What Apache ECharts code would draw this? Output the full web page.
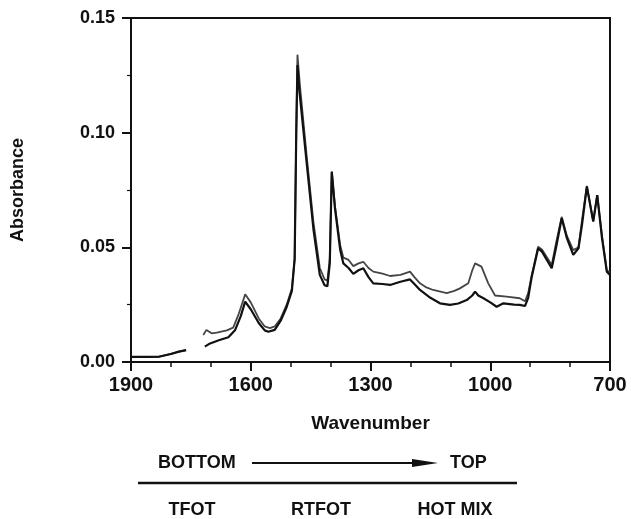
<!DOCTYPE html>
<html>
<head>
<meta charset="utf-8">
<script src="https://cdn.jsdelivr.net/npm/echarts@6/dist/echarts.min.js"></script>
<style>
html,body{margin:0;padding:0;background:#fff;}
#chart{width:643px;height:519px;}
</style>
</head>
<body>
<div id="chart"></div>
<script>
// Axis ticks
const xTicks = [1900, 1600, 1300, 1000, 700];
const yTicks = [0.00, 0.05, 0.10, 0.15];

// Lighter (upper) trace: wavenumber / absorbance, null = gap
const upperWn  = [1900,1860,1830,1800,1780,1762,1740,
  1719,1711,1698,1685,1660,1644,1630,1614,1600,1580,1565,1552,1540,1525,1510,1497,1490,1486,1483,1477,1460,1443,1427,1415,1408,1402,1397,1389,1376,1368,1355,1343,1330,1318,1305,1293,1270,1251,1225,1201,1190,1176,1160,1143,1109,1090,1076,1055,1045,1038,1022,1005,988,959,926,913,905,896,880,870,846,835,821,808,792,779,770,758,742,732,720,708,700];
const upperAbs = [0.0022,0.0022,0.0023,0.0035,0.0045,0.0052,null,
  0.0118,0.0140,0.0125,0.0128,0.0138,0.0150,0.0210,0.0295,0.0260,0.0190,0.0155,0.0148,0.0155,0.0190,0.0250,0.0320,0.0450,0.1000,0.1340,0.1210,0.0900,0.0610,0.0410,0.0360,0.0355,0.0450,0.0830,0.0680,0.0510,0.0455,0.0445,0.0418,0.0430,0.0437,0.0410,0.0394,0.0385,0.0375,0.0380,0.0394,0.0370,0.0343,0.0325,0.0314,0.0300,0.0310,0.0321,0.0343,0.0400,0.0430,0.0416,0.0343,0.0290,0.0285,0.0278,0.0265,0.0300,0.0380,0.0503,0.0490,0.0423,0.0520,0.0633,0.0550,0.0488,0.0500,0.0620,0.0768,0.0615,0.0728,0.0550,0.0400,0.0390];

// Darker (lower) trace
const lowerWn  = [1900,1860,1830,1800,1780,1762,1740,
  1715,1702,1680,1656,1639,1625,1614,1600,1580,1565,1556,1540,1525,1510,1497,1490,1486,1483,1478,1460,1443,1427,1415,1408,1402,1397,1389,1376,1368,1355,1343,1330,1318,1305,1293,1270,1251,1225,1201,1190,1176,1150,1126,1101,1080,1059,1045,1038,1030,1017,1000,984,967,940,926,913,905,896,880,870,846,835,821,808,792,779,770,758,742,732,720,708,700];
const lowerAbs = [0.0022,0.0022,0.0023,0.0035,0.0045,0.0052,null,
  0.0067,0.0081,0.0095,0.0108,0.0140,0.0200,0.0263,0.0230,0.0170,0.0138,0.0132,0.0140,0.0180,0.0240,0.0310,0.0450,0.1000,0.1295,0.1180,0.0870,0.0580,0.0380,0.0335,0.0330,0.0430,0.0830,0.0670,0.0490,0.0430,0.0410,0.0384,0.0400,0.0409,0.0370,0.0343,0.0340,0.0336,0.0350,0.0360,0.0340,0.0314,0.0280,0.0256,0.0249,0.0255,0.0270,0.0290,0.0307,0.0290,0.0278,0.0260,0.0241,0.0256,0.0250,0.0249,0.0244,0.0280,0.0372,0.0496,0.0480,0.0409,0.0500,0.0627,0.0540,0.0467,0.0496,0.0600,0.0765,0.0612,0.0728,0.0540,0.0394,0.0380];

const axisLabelText = 'Wavenumber';
const yLabelText = 'Absorbance';
const legendTop = ['BOTTOM', 'TOP'];
const legendBottom = ['TFOT', 'RTFOT', 'HOT MIX'];

function pairs(xs, ys){ return xs.map((x,i)=>[x, ys[i]]); }

const FONT = '"Liberation Sans", Arial, sans-serif';
const chart = echarts.init(document.getElementById('chart'), null, {renderer:'canvas'});
chart.setOption({
  animation: false,
  backgroundColor: '#fff',
  grid: {left: 131, right: 33, top: 18, bottom: 157, show: true, borderColor: '#111', borderWidth: 2, backgroundColor: 'transparent'},
  xAxis: {
    type: 'value', min: 700, max: 1900, interval: 300, inverse: true,
    axisLine: {show: true, onZero: false, lineStyle: {color: '#111', width: 2}},
    axisTick: {show: true, length: 9, lineStyle: {color: '#111', width: 2}},
    minorTick: {show: true, splitNumber: 3, length: 5, lineStyle: {color: '#111', width: 1.5}},
    splitLine: {show: false},
    axisLabel: {
      margin: 13, color: '#111', fontFamily: FONT, fontWeight: 'bold', fontSize: 20,
      formatter: v => (xTicks.indexOf(v) >= 0 ? String(v) : '')
    },
    name: axisLabelText, nameLocation: 'middle', nameGap: 52,
    nameTextStyle: {color: '#111', fontFamily: FONT, fontWeight: 'bold', fontSize: 19}
  },
  yAxis: {
    type: 'value', min: 0, max: 0.15, interval: 0.05,
    axisLine: {show: true, onZero: false, lineStyle: {color: '#111', width: 2}},
    axisTick: {show: true, length: 9, lineStyle: {color: '#111', width: 2}},
    minorTick: {show: true, splitNumber: 2, length: 4, lineStyle: {color: '#111', width: 1.2}},
    splitLine: {show: false},
    axisLabel: {
      margin: 16, color: '#111', fontFamily: FONT, fontWeight: 'bold', fontSize: 18,
      formatter: v => {
        const t = yTicks.find(k => Math.abs(k - v) < 1e-9);
        return t === undefined ? '' : t.toFixed(2);
      }
    },
    name: yLabelText, nameLocation: 'middle', nameGap: 104, nameRotate: 90,
    nameTextStyle: {color: '#111', fontFamily: FONT, fontWeight: 'bold', fontSize: 18}
  },
  series: [
    {
      type: 'line', name: 'upper', data: pairs(upperWn, upperAbs), showSymbol: false,
      connectNulls: false, lineStyle: {color: '#454545', width: 1.8}, z: 2
    },
    {
      type: 'line', name: 'lower', data: pairs(lowerWn, lowerAbs), showSymbol: false,
      connectNulls: false, lineStyle: {color: '#111', width: 2.2}, z: 3
    }
  ],
  graphic: [
    {type: 'text', left: 158, top: 454, style: {text: legendTop[0], fill: '#111', font: 'bold 18px ' + FONT}},
    {type: 'line', shape: {x1: 252, y1: 463, x2: 420, y2: 463}, style: {stroke: '#111', lineWidth: 2}},
    {type: 'polygon', shape: {points: [[412, 459], [438, 463], [412, 467]]}, style: {fill: '#111'}},
    {type: 'text', left: 450, top: 454, style: {text: legendTop[1], fill: '#111', font: 'bold 18px ' + FONT}},
    {type: 'line', shape: {x1: 138, y1: 483, x2: 517, y2: 483}, style: {stroke: '#111', lineWidth: 2.5}},
    {type: 'text', x: 192, y: 510, style: {text: legendBottom[0], fill: '#111', font: 'bold 18px ' + FONT, align: 'center', verticalAlign: 'middle'}},
    {type: 'text', x: 321, y: 510, style: {text: legendBottom[1], fill: '#111', font: 'bold 18px ' + FONT, align: 'center', verticalAlign: 'middle'}},
    {type: 'text', x: 455, y: 510, style: {text: legendBottom[2], fill: '#111', font: 'bold 18px ' + FONT, align: 'center', verticalAlign: 'middle'}}
  ]
});
</script>
</body>
</html>
